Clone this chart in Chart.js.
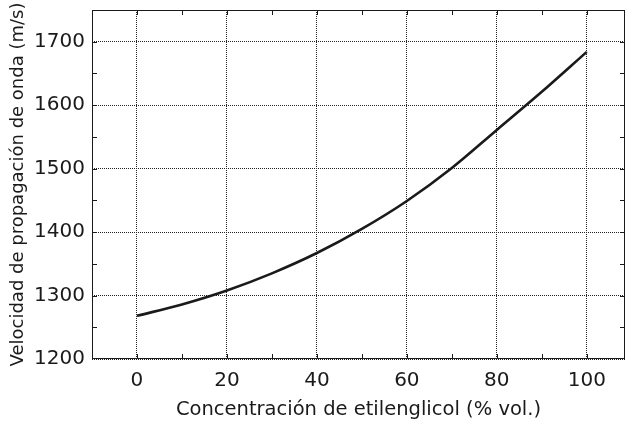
<!DOCTYPE html>
<html>
<head>
<meta charset="utf-8">
<script src="https://cdn.jsdelivr.net/npm/chart.js@4/dist/chart.umd.min.js"></script>
<style>
  html, body { margin: 0; padding: 0; background: #fff; }
  #wrap { width: 626px; height: 423px; }
</style>
</head>
<body>
<div id="wrap"><canvas id="velocidad-chart"></canvas></div>
<script>
// datos
const concentracion = [0, 10, 20, 30, 40, 50, 60, 70, 80, 90, 100];
const velocidad = [1268, 1286, 1308, 1335, 1367, 1405, 1449, 1501, 1561, 1621, 1684];
const xTicks = [0, 20, 40, 60, 80, 100];
const yTicks = [1200, 1300, 1400, 1500, 1600, 1700];
const xMinor = [-10, 0, 10, 20, 30, 40, 50, 60, 70, 80, 90, 100];
const yMinor = [1250, 1300, 1350, 1400, 1450, 1500, 1550, 1600, 1650, 1700];

const fontFam = "'DejaVu Sans', sans-serif";
const ink = '#1a1a1a';

// marco y marcas menores hacia dentro
const boxTicks = {
    id: 'boxTicks',
    afterDraw(chart) {
        const c = chart.ctx;
        const a = chart.chartArea;
        const xs = chart.scales.x, ys = chart.scales.y;
        c.save();
        c.strokeStyle = ink;
        c.lineWidth = 1;
        c.strokeRect(a.left + 0.5, a.top + 0.5, a.right - a.left - 1, a.bottom - a.top - 1);
        c.beginPath();
        xMinor.forEach(v => {
            const px = Math.round(xs.getPixelForValue(v)) + 0.5;
            if (px <= a.left + 1 || px >= a.right - 1) return;
            c.moveTo(px, a.bottom); c.lineTo(px, a.bottom - 5);
            c.moveTo(px, a.top); c.lineTo(px, a.top + 5);
        });
        yMinor.forEach(v => {
            const py = Math.round(ys.getPixelForValue(v)) + 0.5;
            if (py <= a.top + 1 || py >= a.bottom - 1) return;
            c.moveTo(a.left, py); c.lineTo(a.left + 5, py);
            c.moveTo(a.right, py); c.lineTo(a.right - 5, py);
        });
        c.stroke();
        c.restore();
    }
};

const ctx = document.getElementById('velocidad-chart').getContext('2d');
const myChart = new Chart(ctx, {
    type: 'line',
    data: {
        datasets: [{
            label: 'Velocidad',
            data: concentracion.map((x, i) => ({ x: x, y: velocidad[i] })),
            borderColor: ink,
            borderWidth: 2.6,
            pointRadius: 0,
            fill: false,
            cubicInterpolationMode: 'monotone'
        }]
    },
    options: {
        responsive: true,
        maintainAspectRatio: false,
        animation: false,
        layout: { padding: { top: 1, right: 1, left: 0, bottom: 0 } },
        plugins: {
            legend: { display: false },
            tooltip: { enabled: false }
        },
        scales: {
            x: {
                type: 'linear',
                min: -10,
                max: 108.5,
                afterBuildTicks: s => { s.ticks = xTicks.map(v => ({ value: v })); },
                afterFit: s => { s.height = 64; s.paddingLeft = 0; s.paddingRight = 0; },
                grid: { color: '#222', lineWidth: 1, drawTicks: false },
                border: { display: false, dash: [1, 1] },
                ticks: { color: ink, font: { family: fontFam, size: 20, lineHeight: 1 }, padding: 12, maxRotation: 0 },
                title: {
                    display: true,
                    text: 'Concentración de etilenglicol (% vol.)',
                    color: ink,
                    font: { family: fontFam, size: 19.5 },
                    padding: { top: 0, bottom: 1 }
                }
            },
            y: {
                min: 1200,
                max: 1750,
                afterBuildTicks: s => { s.ticks = yTicks.map(v => ({ value: v })); },
                afterFit: s => { s.width = 92; s.paddingTop = 10; s.paddingBottom = 0; },
                grid: { color: '#222', lineWidth: 1, drawTicks: false },
                border: { display: false, dash: [1, 1] },
                ticks: {
                    color: ink,
                    font: { family: fontFam, size: 20, lineHeight: 1 },
                    padding: 7,
                    callback: v => String(v)
                },
                title: {
                    display: true,
                    text: 'Velocidad de propagación de onda (m/s)',
                    color: ink,
                    font: { family: fontFam, size: 18 },
                    padding: { top: 8, bottom: 4 }
                }
            }
        }
    },
    plugins: [boxTicks]
});
</script>
</body>
</html>
